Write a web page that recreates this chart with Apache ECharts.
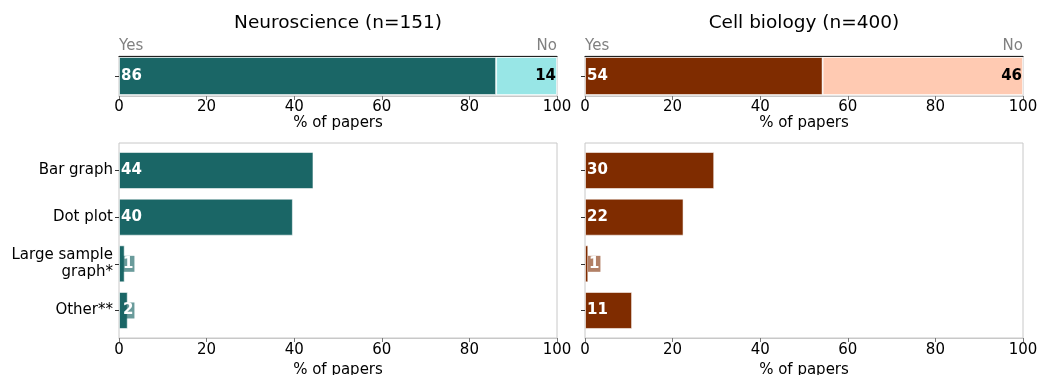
<!DOCTYPE html>
<html><head><meta charset="utf-8">
<script src="https://cdn.jsdelivr.net/npm/echarts@6/dist/echarts.min.js"></script>
<style>html,body{margin:0;padding:0;background:#fff}#c{width:1040px;height:375px}</style>
</head><body><div id="c"></div>
<script>
const panelTitles = ['Neuroscience (n=151)', 'Cell biology (n=400)'];
const yesPct = [86.1, 54.25];
const noPct = [13.9, 45.75];
const yesLabels = ['86', '54'];
const noLabels = ['14', '46'];
const categories = ['Bar graph', 'Dot plot', 'Large sample\ngraph*', 'Other**'];
const neuroPct = [44.4, 39.7, 1.3, 2.0];
const cellPct = [29.5, 22.5, 0.75, 10.75];
const neuroLabels = ['44', '40', '1', '2'];
const cellLabels = ['30', '22', '1', '11'];
const xTicks = [0, 20, 40, 60, 80, 100];
const yesNoText = ['Yes', 'No'];
const xName = '% of papers';

const FONT = 'DejaVu Sans';
const FS = 15;
const dark = ['#1a6666', '#7f2c00'];
const light = ['#98e6e6', '#ffcab2'];
const smallBg = ['rgba(26,102,102,0.65)', 'rgba(127,44,0,0.6)'];
const bottomVals = [neuroPct, cellPct];
const bottomLabels = [neuroLabels, cellLabels];
const lefts = [119, 585];
const W = 438;

const grids = [], xAxes = [], yAxes = [], series = [], titles = [], graphics = [];

function valueX(gi, opts) {
  return Object.assign({
    type: 'value', gridIndex: gi, min: xTicks[0], max: xTicks[xTicks.length - 1],
    interval: xTicks[1] - xTicks[0], splitLine: { show: false },
    axisLine: { show: true, onZero: false, lineStyle: { color: '#c8c8c8', width: 1 } },
    axisTick: { show: true, length: 4, lineStyle: { color: '#777' } },
    axisLabel: { show: true, color: '#000', fontSize: FS, fontFamily: FONT, margin: 4 },
    name: xName, nameLocation: 'middle', nameGap: 21,
    nameTextStyle: { color: '#000', fontSize: FS, fontFamily: FONT }
  }, opts || {});
}

const gbase = { outerBoundsMode: 'none', containLabel: false };

for (let p = 0; p < 2; p++) {
  const L = lefts[p];
  const base = grids.length;
  grids.push(Object.assign({ left: L, width: W, top: 56, height: 40, show: true, borderColor: '#c8c8c8', borderWidth: 1, backgroundColor: 'transparent' }, gbase));
  grids.push(Object.assign({ left: L, width: W, top: 143, height: 195, show: true, borderColor: '#c8c8c8', borderWidth: 1, backgroundColor: 'transparent' }, gbase));
  grids.push(Object.assign({ left: L, width: W, top: 147.2, height: 186.6 }, gbase));

  const xTop = xAxes.length;
  xAxes.push(valueX(base, { nameGap: 20 }));
  xAxes.push({ type: 'value', gridIndex: base, position: 'top', min: 0, max: 100,
    axisLine: { show: true, onZero: false, lineStyle: { color: '#222', width: 1.2 } },
    axisTick: { show: false }, axisLabel: { show: false }, splitLine: { show: false } });
  xAxes.push(valueX(base + 1, { nameGap: 22, axisLabel: { show: true, color: '#000', fontSize: FS, fontFamily: FONT, margin: 5 } }));
  const xData = xAxes.length;
  xAxes.push({ type: 'value', gridIndex: base + 2, min: 0, max: 100, show: false });

  const yTop = yAxes.length;
  yAxes.push({ type: 'category', gridIndex: base, data: [''],
    axisLine: { show: false }, axisLabel: { show: false },
    axisTick: { show: true, alignWithLabel: true, length: 4, lineStyle: { color: '#333' } } });
  yAxes.push({ type: 'value', gridIndex: base + 1, show: false, min: 0, max: 1 });
  const yData = yAxes.length;
  yAxes.push({ type: 'category', gridIndex: base + 2, data: categories, inverse: true,
    axisLine: { show: false },
    axisTick: { show: true, alignWithLabel: true, length: 4, lineStyle: { color: '#333' } },
    axisLabel: { show: p === 0, color: '#000', fontSize: FS, fontFamily: FONT, margin: 6, lineHeight: 17, align: 'right' } });

  const edge = { borderColor: 'rgba(255,255,255,0.55)', borderWidth: 1 };
  series.push({ type: 'bar', xAxisIndex: xTop, yAxisIndex: yTop, stack: 's' + p, barWidth: 38,
    data: [yesPct[p]], itemStyle: Object.assign({ color: dark[p] }, edge), silent: true,
    label: { show: true, position: 'insideLeft', distance: 2, formatter: () => yesLabels[p],
      color: '#fff', fontWeight: 'bold', fontSize: FS, fontFamily: FONT } });
  series.push({ type: 'bar', xAxisIndex: xTop, yAxisIndex: yTop, stack: 's' + p, barWidth: 38,
    data: [noPct[p]], itemStyle: Object.assign({ color: light[p] }, edge), silent: true,
    label: { show: true, position: 'insideRight', distance: 1, formatter: () => noLabels[p],
      color: '#000', fontWeight: 'bold', fontSize: FS, fontFamily: FONT } });

  const vals = bottomVals[p], labs = bottomLabels[p];
  series.push({ type: 'bar', xAxisIndex: xData, yAxisIndex: yData, barWidth: 37, silent: true,
    itemStyle: Object.assign({ color: dark[p] }, edge),
    data: vals.map((v, i) => {
      const small = v < 5;
      return { value: v, label: { show: true, position: 'insideLeft', distance: small ? 3 : 2,
        formatter: labs[i], color: '#fff', fontWeight: 'bold', fontSize: FS, fontFamily: FONT,
        backgroundColor: small ? smallBg[p] : 'transparent', padding: small ? [1, 1, 0, 1] : 0 } };
    }) });

  titles.push({ text: panelTitles[p], left: L + W / 2, top: 14, textAlign: 'center', padding: 0,
    textStyle: { fontFamily: FONT, fontSize: 18.5, fontWeight: 'normal', color: '#000' } });
  graphics.push({ type: 'text', left: L, top: 39, style: { text: yesNoText[0], fill: '#808080', font: FS + 'px "DejaVu Sans"' } });
  graphics.push({ type: 'text', right: 1040 - (L + W), top: 39, style: { text: yesNoText[1], fill: '#808080', font: FS + 'px "DejaVu Sans"' } });
}

const chart = echarts.init(document.getElementById('c'), null, { renderer: 'canvas' });
chart.setOption({ animation: false, backgroundColor: '#fff', title: titles, grid: grids,
  xAxis: xAxes, yAxis: yAxes, series: series, graphic: graphics });
</script></body></html>
